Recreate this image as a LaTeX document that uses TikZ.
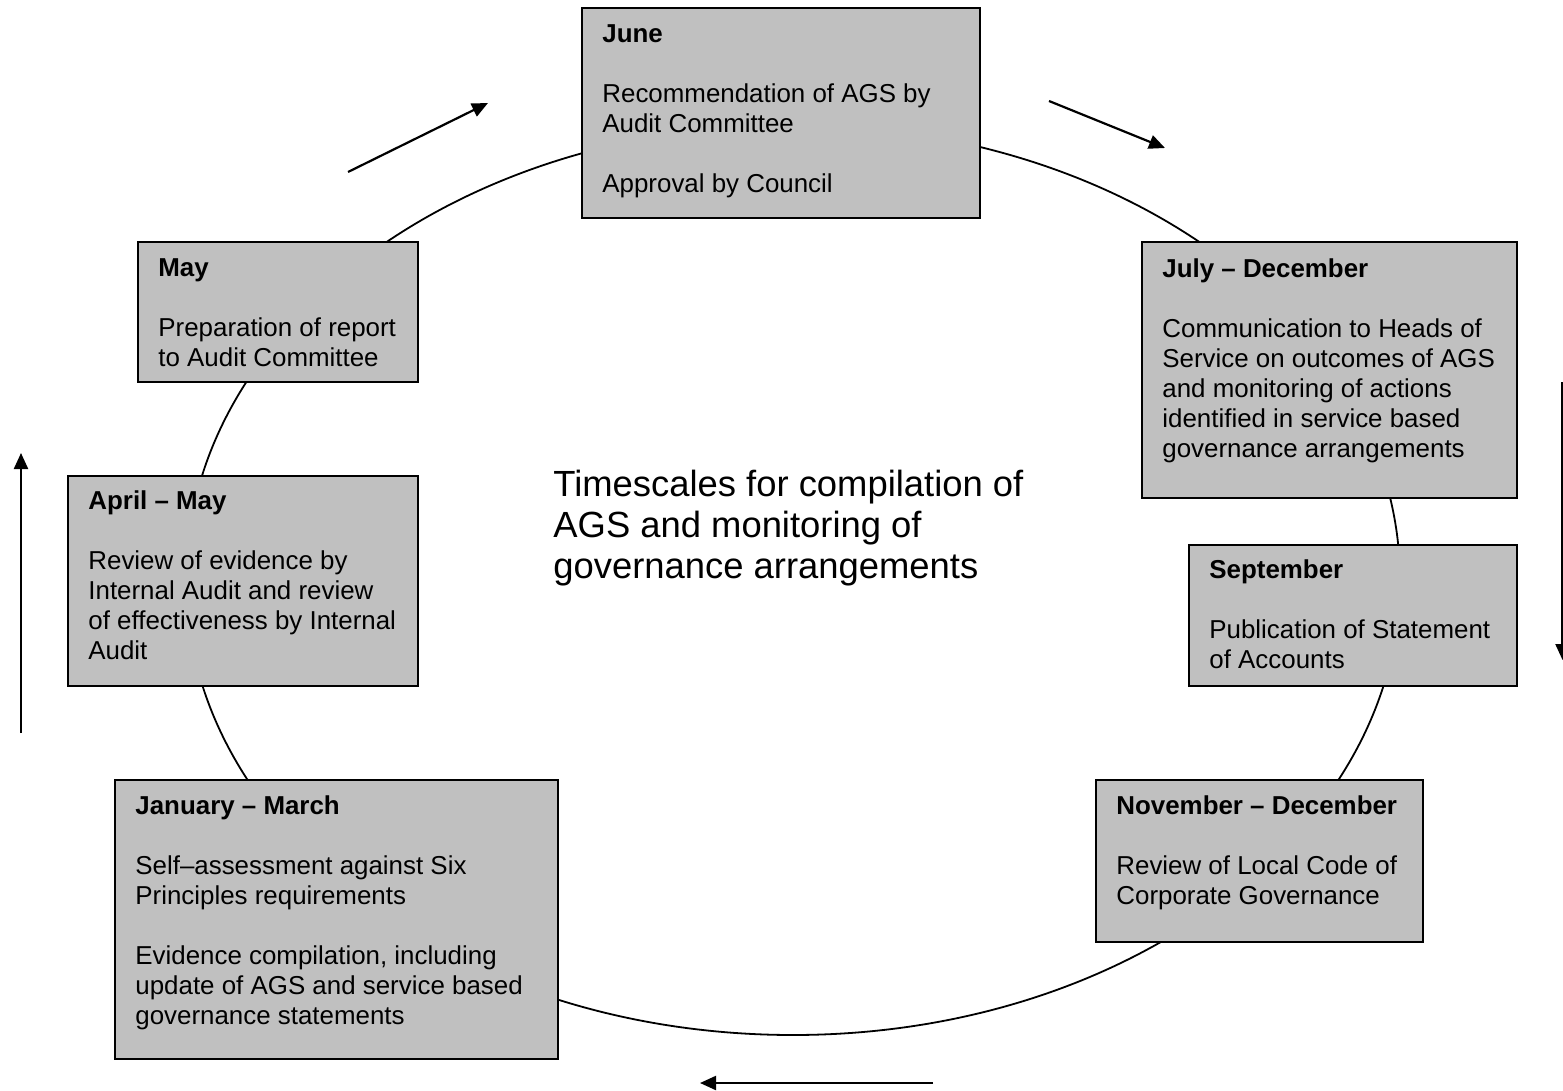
\documentclass[tikz,border=0pt]{standalone}
\usepackage{fontspec}
\setmainfont{Liberation Sans}
\usetikzlibrary{arrows.meta,fit}
\definecolor{boxgrey}{HTML}{C0C0C0}
\begin{document}
\begin{tikzpicture}[x=0.5pt,y=-0.5pt,
  box/.style={draw=black, line width=1pt, fill=boxgrey, inner sep=0pt},
  txt/.style={anchor=north west, inner sep=0pt, align=left, font=\fontsize{12.95}{15}\selectfont},
  bigtxt/.style={anchor=north west, inner sep=0pt, align=left, font=\fontsize{18.2}{20.5}\selectfont},
  ring/.style={line width=0.9pt},
  flow/.style={line width=1.1pt, -{Triangle[length=8pt,width=7pt]}}]
\useasboundingbox (0,0) rectangle (1563,1091);
\draw[ring] (793,580) ellipse [x radius=607, y radius=455];

% boxes
\node[box, fit={(582,8) (980,218)}] (june) {};
\node[box, fit={(138,242) (418,382)}] (may) {};
\node[box, fit={(1142,242) (1517,498)}] (jul) {};
\node[box, fit={(1189,545) (1517,686)}] (sep) {};
\node[box, fit={(68,476) (418,686)}] (apr) {};
\node[box, fit={(115,780) (558,1059)}] (jan) {};
\node[box, fit={(1096,780) (1423,942)}] (nov) {};

% texts
\node[txt] (junet) at (602,21) {\strut\textbf{June}\\[15pt]Recommendation of AGS by\\Audit Committee\\[15pt]Approval by Council};
\node[txt] (mayt) at (158,255) {\strut\textbf{May}\\[15pt]Preparation of report\\to Audit Committee};
\node[txt] (jult) at (1162,256) {\strut\textbf{July – December}\\[15pt]Communication to Heads of\\Service on outcomes of AGS\\and monitoring of actions\\identified in service based\\governance arrangements};
\node[txt] (sept) at (1209,557) {\strut\textbf{September}\\[15pt]Publication of Statement\\of Accounts};
\node[txt] (aprt) at (88,488) {\strut\textbf{April – May}\\[15pt]Review of evidence by\\Internal Audit and review\\of effectiveness by Internal\\Audit};
\node[txt] (jant) at (135,793) {\strut\textbf{January – March}\\[15pt]Self–assessment against Six\\Principles requirements\\[15pt]Evidence compilation, including\\update of AGS and service based\\governance statements};
\node[txt] (novt) at (1116,793) {\strut\textbf{November – December}\\[15pt]Review of Local Code of\\Corporate Governance};

\node[bigtxt] (title) at (553,467) {\strut Timescales for compilation of\\AGS and monitoring of\\governance arrangements};

% arrows
\coordinate (a1s) at (348,172); \coordinate (a1e) at (488,103);
\coordinate (a2s) at (1049,101); \coordinate (a2e) at (1165,148);
\coordinate (a3s) at (1562.5,382); \coordinate (a3e) at (1562.5,660);
\coordinate (a4s) at (933,1083); \coordinate (a4e) at (700,1083);
\coordinate (a5s) at (21,733); \coordinate (a5e) at (21,453);
\draw[flow] (a1s) -- (a1e);
\draw[flow] (a2s) -- (a2e);
\draw[flow] (a3s) -- (a3e);
\draw[flow] (a4s) -- (a4e);
\draw[flow] (a5s) -- (a5e);
\end{tikzpicture}
\end{document}
